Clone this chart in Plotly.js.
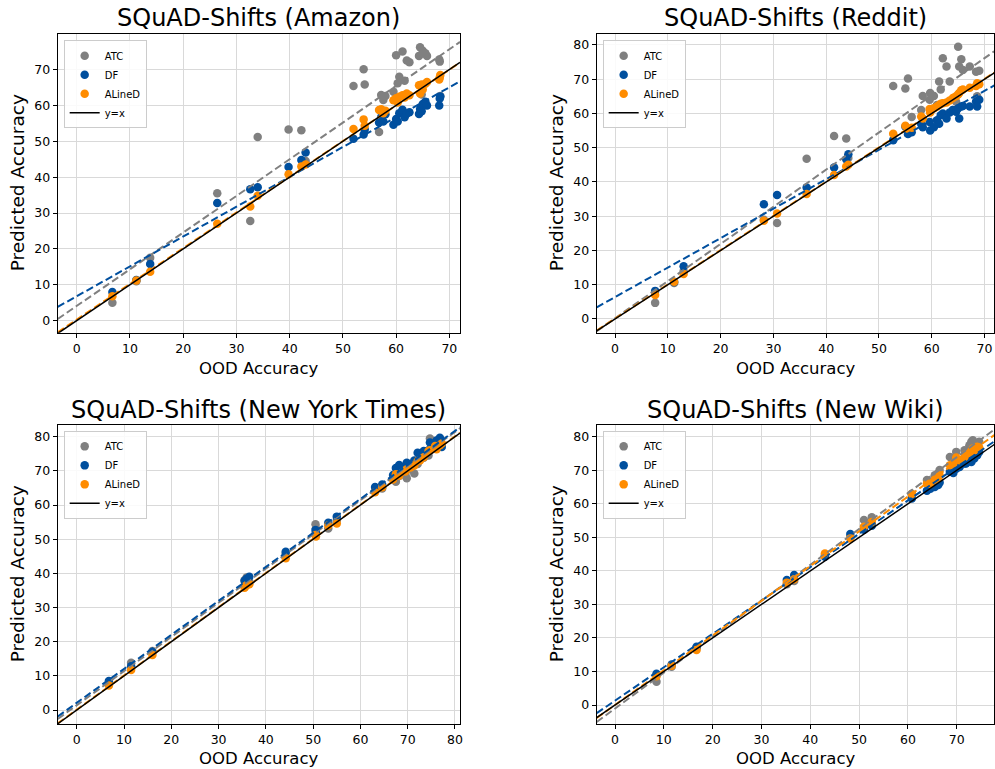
<!DOCTYPE html>
<html>
<head>
<meta charset="utf-8">
<script src="https://cdn.plot.ly/plotly-3.0.1.min.js"></script>
<style>html,body{margin:0;padding:0;background:#fff;}</style>
</head>
<body>
<div id="chart" style="width:995px;height:769px;"></div>
<script>
// ---------- data ----------
const seriesNames = ["ATC", "DF", "ALineD"];
const panelTitles = ["SQuAD-Shifts (Amazon)", "SQuAD-Shifts (Reddit)", "SQuAD-Shifts (New York Times)", "SQuAD-Shifts (New Wiki)"];

// Amazon
const amazonX      = [6.7, 11.2, 13.8, 26.4, 32.6, 34.0, 39.8, 42.2, 43.0, 52.0, 53.9, 54.1, 56.8, 57.2, 57.6, 58.0, 59.5, 60.0, 60.3, 60.6, 61.2, 61.6, 62.0, 62.5, 64.3, 64.5, 64.8, 65.0, 65.5, 65.8, 68.1, 68.2, 68.3];
const amazonATC    = [5.0, 11.0, 17.5, 35.5, 27.8, 51.2, 53.3, 53.1, 44.5, 65.4, 70.1, 65.8, 52.6, 62.9, 61.5, 62.6, 63.8, 74.0, 66.2, 68.0, 75.0, 66.9, 72.5, 72.0, 73.8, 76.2, 63.0, 75.2, 74.5, 73.8, 72.8, 72.2, 62.6];
const amazonDF     = [8.0, 11.3, 15.8, 32.8, 36.6, 37.2, 42.8, 44.8, 46.9, 50.7, 51.9, 53.3, 55.2, 56.7, 55.5, 57.5, 54.6, 56.2, 55.5, 57.8, 58.8, 56.7, 57.7, 58.1, 57.6, 59.0, 58.4, 60.4, 61.0, 60.0, 60.0, 61.9, 62.5];
const amazonALineD = [6.8, 11.2, 13.6, 27.0, 31.8, 34.8, 40.8, 43.0, 43.5, 53.4, 56.1, 54.3, 58.7, 58.9, 57.8, 58.5, 61.4, 62.0, 60.8, 62.4, 62.8, 62.2, 63.3, 62.8, 65.6, 63.3, 65.8, 64.4, 66.0, 66.5, 67.2, 67.8, 68.5];
const amazonFitSlope     = [1.022, 0.832, 0.995];
const amazonFitIntercept = [4.1, 6.8, 0.3];

// Reddit
const redditX      = [7.6, 11.2, 13.0, 28.2, 30.7, 36.3, 41.5, 43.8, 44.2, 52.7, 55.0, 55.5, 56.2, 58.0, 58.3, 59.6, 59.7, 60.4, 61.0, 61.4, 61.7, 62.1, 62.8, 63.4, 64.0, 64.6, 65.0, 65.2, 65.6, 65.9, 67.2, 68.4, 68.6, 69.0];
const redditATC    = [4.7, 10.5, 14.0, 29.0, 28.0, 46.8, 53.4, 52.7, 47.0, 68.0, 67.3, 70.2, 59.0, 61.0, 65.1, 64.0, 66.0, 65.1, 62.5, 69.3, 67.0, 76.1, 73.7, 69.3, 61.0, 63.5, 79.5, 73.7, 75.8, 72.7, 73.7, 72.2, 65.0, 72.5];
const redditDF     = [8.2, 10.8, 15.4, 33.5, 36.2, 38.4, 44.2, 46.6, 48.1, 52.2, 56.2, 54.0, 54.5, 56.9, 56.0, 57.5, 55.0, 56.0, 58.0, 57.0, 59.5, 60.0, 58.5, 60.3, 61.0, 60.5, 61.5, 58.5, 62.0, 62.2, 62.0, 63.5, 62.0, 64.0];
const redditALineD = [7.0, 10.9, 13.1, 28.7, 30.8, 36.5, 42.0, 44.5, 45.0, 54.1, 56.4, 55.5, 55.8, 59.1, 58.5, 61.3, 60.3, 61.5, 62.0, 62.5, 62.8, 63.0, 63.2, 63.8, 64.5, 65.0, 65.5, 66.0, 66.8, 67.0, 67.5, 68.0, 68.8, 68.5];
const redditFitSlope     = [1.085, 0.86, 1.0];
const redditFitIntercept = [0.2, 6.4, 0.1];

// New York Times
const nytX      = [6.8, 11.5, 16.0, 35.5, 35.9, 36.5, 44.2, 50.5, 50.6, 53.2, 55.0, 63.1, 64.6, 66.9, 67.5, 68.2, 69.5, 69.8, 70.6, 71.4, 72.1, 72.6, 73.4, 74.4, 74.7, 75.8, 76.1, 76.8, 77.2];
const nytATC    = [8.0, 13.8, 17.3, 38.0, 38.8, 37.5, 45.8, 54.4, 53.2, 53.1, 55.5, 64.0, 64.8, 68.0, 66.8, 68.5, 69.0, 67.8, 70.5, 69.2, 72.0, 73.4, 73.8, 74.5, 79.5, 78.5, 77.5, 79.2, 78.0];
const nytDF     = [8.5, 12.8, 17.0, 37.8, 38.4, 39.0, 46.3, 52.7, 52.0, 54.8, 56.6, 65.3, 66.0, 68.8, 70.8, 71.7, 71.2, 72.4, 72.0, 73.0, 75.3, 74.4, 75.8, 76.0, 78.3, 77.5, 78.9, 79.7, 77.0];
const nytALineD = [7.2, 11.7, 16.1, 35.8, 36.5, 36.8, 44.4, 51.2, 50.8, 54.0, 54.6, 63.7, 65.2, 67.5, 69.0, 68.6, 69.8, 70.5, 71.0, 71.6, 72.9, 73.0, 74.0, 75.8, 76.0, 77.3, 76.3, 77.5, 78.0];
const nytFitSlope     = [1.0, 0.995, 1.0];
const nytFitIntercept = [1.4, 2.1, 0.1];

// New Wiki
const wikiX      = [8.5, 11.6, 16.7, 35.2, 36.7, 43.0, 48.2, 51.0, 52.6, 60.8, 63.9, 64.6, 65.5, 66.2, 66.5, 68.6, 69.3, 69.9, 70.6, 71.6, 71.9, 72.6, 73.3, 73.6, 74.2, 74.6, 73.0];
const wikiATC    = [6.9, 11.4, 16.9, 36.0, 37.0, 44.7, 50.0, 55.2, 56.0, 63.0, 67.1, 66.5, 68.5, 69.1, 70.1, 74.0, 73.5, 75.5, 73.0, 76.0, 74.5, 77.5, 79.0, 77.0, 78.0, 78.5, 78.5];
const wikiDF     = [9.3, 12.1, 17.4, 37.3, 38.8, 44.2, 51.0, 52.3, 53.5, 61.6, 63.9, 64.5, 65.0, 65.6, 66.4, 69.6, 69.2, 70.5, 71.0, 72.0, 72.0, 72.8, 73.5, 73.5, 74.5, 75.5, 72.5];
const wikiALineD = [8.6, 11.7, 16.4, 36.5, 37.5, 45.2, 49.7, 53.2, 54.6, 62.9, 66.1, 66.0, 67.2, 67.6, 68.5, 71.5, 72.0, 73.8, 73.0, 74.0, 74.8, 75.0, 76.5, 76.0, 77.0, 76.8, 75.8];
const wikiFitSlope     = [1.071, 0.995, 1.036];
const wikiFitIntercept = [-1.05, 1.3, 0.0];

// ---------- styling ----------
const colors = ["#808080", "#004f9e", "#ff8c00"];
const xRanges = [[-3.57, 72.0], [-3.47, 71.85], [-4.03, 81.06], [-3.75, 77.7]];
const yRanges = [[-3.35, 79.9], [-4.0, 83.2], [-4.1, 83.5], [-5.67, 83.6]];
const xDomains = [[0.058, 0.4623], [0.5997, 0.9993], [0.058, 0.4623], [0.5997, 0.9993]];
const yDomains = [[0.5674, 0.9558], [0.5674, 0.9558], [0.0585, 0.4477], [0.0585, 0.4477]];

const panels = [
  {x: amazonX, ys: [amazonATC, amazonDF, amazonALineD], slope: amazonFitSlope, icpt: amazonFitIntercept},
  {x: redditX, ys: [redditATC, redditDF, redditALineD], slope: redditFitSlope, icpt: redditFitIntercept},
  {x: nytX, ys: [nytATC, nytDF, nytALineD], slope: nytFitSlope, icpt: nytFitIntercept},
  {x: wikiX, ys: [wikiATC, wikiDF, wikiALineD], slope: wikiFitSlope, icpt: wikiFitIntercept}
];

const traces = [];
const layout = {
  width: 995, height: 769,
  margin: {l: 0, r: 0, t: 0, b: 0},
  paper_bgcolor: "white", plot_bgcolor: "white",
  font: {family: "DejaVu Sans", color: "black"},
  showlegend: true,
  annotations: []
};

panels.forEach((p, i) => {
  const n = i + 1;
  const sfx = n === 1 ? "" : String(n);
  const xa = "x" + sfx, ya = "y" + sfx;
  const leg = "legend" + sfx;
  for (let s = 0; s < 3; s++) {
    traces.push({
      type: "scatter", mode: "markers", x: p.x, y: p.ys[s], xaxis: xa, yaxis: ya,
      name: seriesNames[s], legend: leg,
      marker: {color: colors[s], size: 8.5, line: {width: 0}}
    });
  }
  const xr = xRanges[i];
  for (let s = 0; s < 3; s++) {
    traces.push({
      type: "scatter", mode: "lines", x: xr, y: xr.map(v => p.slope[s] * v + p.icpt[s]),
      xaxis: xa, yaxis: ya, showlegend: false, hoverinfo: "skip",
      line: {color: colors[s], width: 2, dash: "7.5px,3.5px"}
    });
  }
  traces.push({
    type: "scatter", mode: "lines", x: xr, y: xr, xaxis: xa, yaxis: ya,
    name: "y=x", legend: leg, line: {color: "black", width: 1.5}
  });

  const axCommon = {
    showline: true, linecolor: "black", linewidth: 1, mirror: true,
    ticks: "outside", ticklen: 4, tickcolor: "black", tickwidth: 1,
    showgrid: true, gridcolor: "#d9d9d9", gridwidth: 1, zeroline: false,
    tickfont: {size: 12.5, family: "DejaVu Sans", color: "black"},
    tick0: 0, dtick: 10, fixedrange: true
  };
  layout["xaxis" + sfx] = Object.assign({}, axCommon, {domain: xDomains[i], range: xRanges[i], anchor: ya});
  layout["yaxis" + sfx] = Object.assign({}, axCommon, {domain: yDomains[i], range: yRanges[i], anchor: xa});

  layout[leg] = {
    x: xDomains[i][0] + 0.006, y: yDomains[i][1] - 0.008,
    xanchor: "left", yanchor: "top",
    bgcolor: "rgba(255,255,255,0.85)", bordercolor: "#cccccc", borderwidth: 1,
    font: {size: 10, family: "DejaVu Sans", color: "black"},
    itemwidth: 30
  };

  const cx = (xDomains[i][0] + xDomains[i][1]) / 2;
  const top = i < 2;
  layout.annotations.push({
    text: panelTitles[i], xref: "paper", yref: "paper", x: cx, y: 1 - (top ? 18 : 410) / 769,
    xanchor: "center", yanchor: "middle", showarrow: false,
    font: {size: 24, family: "DejaVu Sans", color: "black"}
  });
  layout.annotations.push({
    text: "OOD Accuracy", xref: "paper", yref: "paper", x: cx, y: 1 - (top ? 368 : 758) / 769,
    xanchor: "center", yanchor: "middle", showarrow: false,
    font: {size: 16.5, family: "DejaVu Sans", color: "black"}
  });
  layout.annotations.push({
    text: "Predicted Accuracy", xref: "paper", yref: "paper",
    x: (i % 2 === 0 ? 17 : 556) / 995, y: (yDomains[i][0] + yDomains[i][1]) / 2,
    xanchor: "center", yanchor: "middle", textangle: -90, showarrow: false,
    font: {size: 18.5, family: "DejaVu Sans", color: "black"}
  });
});

Plotly.newPlot("chart", traces, layout, {displayModeBar: false, staticPlot: true});
</script>
</body>
</html>
